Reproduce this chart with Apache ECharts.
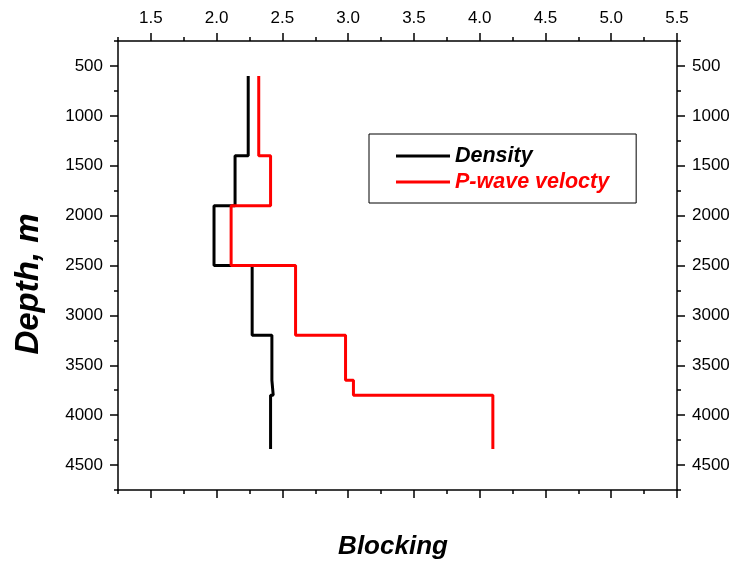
<!DOCTYPE html>
<html>
<head>
<meta charset="utf-8">
<script src="https://cdn.jsdelivr.net/npm/echarts@6/dist/echarts.min.js"></script>
<style>
html, body { margin: 0; padding: 0; background: #fff; }
#chart { width: 740px; height: 563px; }
</style>
</head>
<body>
<div id="chart"></div>
<script>
// layer tops (m) and the bottom of the last layer
var layerTops = [600, 1400, 1900, 2500, 3200, 3650, 3800]
var lastBottom = 4340
var density = [2.24, 2.14, 1.98, 2.27, 2.42, 2.43, 2.41]
var pVelocity = [2.32, 2.41, 2.11, 2.60, 2.98, 3.04, 4.10]

var xMajor = [1.5, 2.0, 2.5, 3.0, 3.5, 4.0, 4.5, 5.0, 5.5]
var xMinor = [1.25, 1.75, 2.25, 2.75, 3.25, 3.75, 4.25, 4.75, 5.25]
var yMajor = [500, 1000, 1500, 2000, 2500, 3000, 3500, 4000, 4500]
var yMinor = [250, 750, 1250, 1750, 2250, 2750, 3250, 3750, 4250, 4750]

var FONT = "'Liberation Sans', Arial, sans-serif"

// turn layer values into a stepped profile
function steps(vals) {
  var pts = []
  for (var i = 0; i < vals.length; i++) {
    var bottom = i < vals.length - 1 ? layerTops[i + 1] : lastBottom
    pts.push([vals[i], layerTops[i]])
    pts.push([vals[i], bottom])
  }
  return pts
}

function xAx(pos, ticks, len, withLabel, withLine) {
  return {
    type: 'value', position: pos, min: 1.25, max: 5.5,
    splitLine: { show: false },
    axisLine: { show: withLine, lineStyle: { color: '#000', width: 1.5 } },
    axisTick: { show: true, customValues: ticks, length: len, lineStyle: { color: '#000', width: 1.5 } },
    axisLabel: {
      show: withLabel, customValues: ticks, margin: 14,
      color: '#000', fontSize: 17, fontFamily: FONT,
      formatter: function (v) { return v.toFixed(1) }
    }
  }
}

function yAx(pos, ticks, len, withLabel, withLine) {
  return {
    type: 'value', position: pos, inverse: true, min: 250, max: 4750,
    splitLine: { show: false },
    axisLine: { show: withLine, lineStyle: { color: '#000', width: 1.5 } },
    axisTick: { show: true, customValues: ticks, length: len, lineStyle: { color: '#000', width: 1.5 } },
    axisLabel: {
      show: withLabel, customValues: ticks, margin: 15,
      color: '#000', fontSize: 17, fontFamily: FONT,
      formatter: function (v) { return String(v) }
    }
  }
}

var myChart = echarts.init(document.getElementById('chart'))
myChart.setOption({
  animation: false,
  backgroundColor: '#fff',
  grid: { left: 118, right: 63, top: 41, bottom: 73 },
  xAxis: [
    xAx('top', xMajor, 8, true, true),
    xAx('top', xMinor, 4, false, false),
    xAx('bottom', xMajor, 8, false, true),
    xAx('bottom', xMinor, 4, false, false)
  ],
  yAxis: [
    yAx('left', yMajor, 8, true, true),
    yAx('left', yMinor, 4, false, false),
    yAx('right', yMajor, 8, true, true),
    yAx('right', yMinor, 4, false, false)
  ],
  legend: {
    orient: 'vertical',
    left: 369, top: 134,
    icon: 'rect',
    itemWidth: 54, itemHeight: 3, itemGap: 4, itemTextGap: 7,
    padding: [11, 27, 10, 27],
    borderColor: '#000', borderWidth: 1, borderRadius: 0,
    textStyle: { fontSize: 21.5, lineHeight: 20, fontWeight: 'bold', fontStyle: 'italic', fontFamily: FONT },
    data: [
      { name: 'Density', textStyle: { color: '#000' } },
      { name: 'P-wave velocty', textStyle: { color: '#ff0000' } }
    ]
  },
  graphic: [
    {
      type: 'text', x: 393, y: 547,
      style: { text: 'Blocking', font: "italic bold 26px " + FONT, fill: '#000', align: 'center', verticalAlign: 'middle' }
    },
    {
      type: 'text', x: 29, y: 284, rotation: Math.PI / 2,
      style: { text: 'Depth, m', font: "italic bold 33px " + FONT, fill: '#000', align: 'center', verticalAlign: 'middle' }
    }
  ],
  series: [
    {
      name: 'Density', type: 'line', xAxisIndex: 0, yAxisIndex: 0,
      symbol: 'none', color: '#000',
      lineStyle: { color: '#000', width: 3 },
      data: steps(density)
    },
    {
      name: 'P-wave velocty', type: 'line', xAxisIndex: 0, yAxisIndex: 0,
      symbol: 'none', color: '#ff0000',
      lineStyle: { color: '#ff0000', width: 3 },
      data: steps(pVelocity)
    }
  ]
})
</script>
</body>
</html>
